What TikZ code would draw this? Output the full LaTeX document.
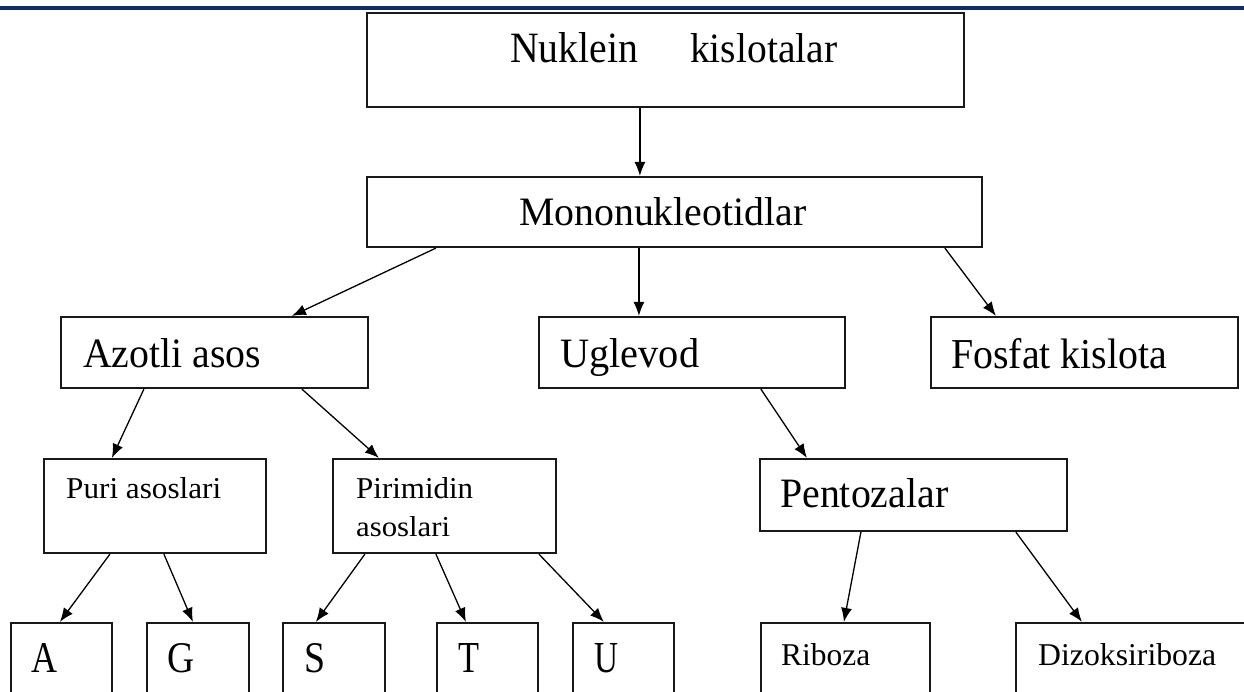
\documentclass[tikz,border=0pt]{standalone}
\usepackage{fontspec}
\setmainfont{Liberation Serif}
\usepackage{graphicx}
\usetikzlibrary{arrows.meta}
\definecolor{navyline}{HTML}{0F2B6C}
\newcommand{\fitt}[3]{\resizebox{#1pt}{#2pt}{#3}}
\begin{document}
\begin{tikzpicture}[x=1pt,y=-1pt,
  box/.style={draw=black!90,line width=2.2pt,rectangle,inner sep=0pt},
  lbl/.style={inner sep=0pt,anchor=base west},
  arr/.style={line width=1.3pt,-{Latex[length=14pt,width=11pt]}}]
\useasboundingbox (0,0) rectangle (1244,691);
\clip (0,0) rectangle (1244,691);
\fill[navyline] (0,5.5) rectangle (1244,9.5);
% boxes
\node[box,minimum width=597pt,minimum height=94pt] (nuk) at (665.5,60) {};
\node[box,minimum width=615pt,minimum height=70pt] (mono) at (674.5,212) {};
\node[box,minimum width=307pt,minimum height=71pt] (azot) at (214.5,352.5) {};
\node[box,minimum width=306pt,minimum height=71pt] (ugl) at (692,352.5) {};
\node[box,minimum width=307pt,minimum height=71pt] (fos) at (1084.5,352.5) {};
\node[box,minimum width=307pt,minimum height=72pt] (pent) at (913.5,495) {};
\node[box,minimum width=222pt,minimum height=94pt] (puri) at (155,506) {};
\node[box,minimum width=223pt,minimum height=94pt] (piri) at (444.5,506) {};
\node[box,minimum width=101pt,minimum height=100pt] (bA) at (61.5,673) {};
\node[box,minimum width=102pt,minimum height=100pt] (bG) at (198,673) {};
\node[box,minimum width=102pt,minimum height=100pt] (bS) at (334,673) {};
\node[box,minimum width=101pt,minimum height=100pt] (bT) at (487.5,673) {};
\node[box,minimum width=101pt,minimum height=100pt] (bU) at (623.5,673) {};
\node[box,minimum width=169pt,minimum height=100pt] (rib) at (845.5,673) {};
\node[box,minimum width=240pt,minimum height=100pt] (diz) at (1136,673) {};
% texts
\node[lbl] (tnuk) at (510,62) {\makebox[128pt][l]{\fitt{128}{30}{Nuklein}}\hspace{52pt}\fitt{147}{29}{kislotalar}};
\node[lbl] (tmono) at (519,225) {\fitt{287}{28}{Mononukleotidlar}};
\node[lbl] (tazot) at (83,367) {\fitt{178}{29}{Azotli asos}};
\node[lbl] (tugl) at (560,367) {\fitt{139}{29}{Uglevod}};
\node[lbl] (tfos) at (951,368) {\fitt{216}{30}{Fosfat kislota}};
\node[lbl] (tpent) at (780,507) {\fitt{168}{29}{Pentozalar}};
\node[lbl] (tpuri) at (66,498) {\fitt{155}{21}{Puri asoslari}};
\node[lbl] (tpiri) at (356,498) {\fitt{117}{21}{Pirimidin}};
\node[lbl] (tpiri2) at (356,536) {\fitt{94}{20}{asoslari}};
\node[lbl] (tA) at (31,672) {\fitt{26}{29}{A}};
\node[lbl] (tG) at (167,672) {\fitt{27}{29}{G}};
\node[lbl] (tS) at (304,672) {\fitt{21}{29}{S}};
\node[lbl] (tT) at (458,672) {\fitt{21}{29}{T}};
\node[lbl] (tU) at (594,672) {\fitt{24}{29}{U}};
\node[lbl] (trib) at (781,665) {\fitt{89}{22}{Riboza}};
\node[lbl] (tdiz) at (1038,665) {\fitt{178}{22}{Dizoksiriboza}};
% arrows
\draw[arr] ([xshift=274pt]nuk.south west) -- ([xshift=274pt]mono.north west);
\draw[arr] ([xshift=70pt]mono.south west) -- ([xshift=232pt]azot.north west);
\draw[arr] ([xshift=273pt]mono.south west) -- ([xshift=101pt]ugl.north west);
\draw[arr] ([xshift=579pt]mono.south west) -- ([xshift=66pt]fos.north west);
\draw[arr] ([xshift=84pt]azot.south west) -- ([xshift=69pt]puri.north west);
\draw[arr] ([xshift=242pt]azot.south west) -- ([xshift=47pt]piri.north west);
\draw[arr] ([xshift=223pt]ugl.south west) -- ([xshift=48pt]pent.north west);
\draw[arr] ([xshift=67pt]puri.south west) -- ([xshift=50pt]bA.north west);
\draw[arr] ([xshift=121pt]puri.south west) -- ([xshift=47pt]bG.north west);
\draw[arr] ([xshift=33pt]piri.south west) -- ([xshift=34pt]bS.north west);
\draw[arr] ([xshift=104pt]piri.south west) -- ([xshift=30pt]bT.north west);
\draw[arr] ([xshift=207pt]piri.south west) -- ([xshift=32pt]bU.north west);
\draw[arr] ([xshift=102pt]pent.south west) -- ([xshift=84pt]rib.north west);
\draw[arr] ([xshift=257pt]pent.south west) -- ([xshift=67pt]diz.north west);
\end{tikzpicture}
\end{document}
